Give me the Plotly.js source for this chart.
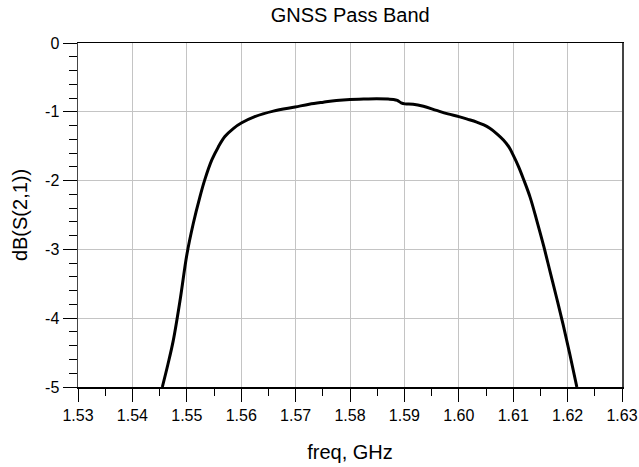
<!DOCTYPE html>
<html>
<head>
<meta charset="utf-8">
<script src="https://cdn.plot.ly/plotly-3.0.1.min.js"></script>
<style>
  html, body { margin: 0; padding: 0; background: #fff; }
  #chart { width: 639px; height: 467px; }
</style>
</head>
<body>
<div id="chart"></div>
<script>
// Filter transmission S21 across the GNSS band
const freqGHz = [
  1.5455, 1.5465, 1.5475, 1.5488, 1.5500, 1.5512, 1.5524, 1.5533, 1.5546,
  1.5558, 1.5570, 1.5586, 1.5601, 1.5625, 1.5659, 1.5699, 1.5725, 1.5751,
  1.5775, 1.5800, 1.5825, 1.5849, 1.5870, 1.5880, 1.5887, 1.5894, 1.5901,
  1.5916, 1.5935, 1.5959, 1.5980, 1.6000, 1.6017, 1.6033, 1.6046, 1.6057,
  1.6070, 1.6082, 1.6092, 1.6100, 1.6110, 1.6119, 1.6131, 1.6143, 1.6156,
  1.6168, 1.6180, 1.6192, 1.6204, 1.6217
];
const s21dB = [
  -5.00, -4.68, -4.33, -3.72, -3.08, -2.62, -2.24, -1.99, -1.70,
  -1.51, -1.36, -1.24, -1.16, -1.07, -0.99, -0.93, -0.89, -0.86,
  -0.835, -0.82, -0.815, -0.81, -0.815, -0.82, -0.835, -0.87, -0.885,
  -0.89, -0.92, -0.98, -1.03, -1.07, -1.11, -1.15, -1.19, -1.24,
  -1.32, -1.41, -1.51, -1.63, -1.80, -1.98, -2.24, -2.57, -2.95,
  -3.33, -3.71, -4.10, -4.52, -5.00
];

const xTickVals = [1.53, 1.54, 1.55, 1.56, 1.57, 1.58, 1.59, 1.60, 1.61, 1.62, 1.63];
const xTickText = ['1.53', '1.54', '1.55', '1.56', '1.57', '1.58', '1.59', '1.60', '1.61', '1.62', '1.63'];
const yTickVals = [0, -1, -2, -3, -4, -5];
const yTickText = ['0', '-1', '-2', '-3', '-4', '-5'];

const font = 'Liberation Sans, Arial, sans-serif';

const trace = {
  x: freqGHz,
  y: s21dB,
  type: 'scatter',
  mode: 'lines',
  line: { color: '#000', width: 3, shape: 'spline', smoothing: 1 },
  hoverinfo: 'x+y'
};

const layout = {
  width: 639,
  height: 467,
  margin: { l: 78, r: 17, t: 43, b: 80 },
  paper_bgcolor: '#fff',
  plot_bgcolor: '#fff',
  showlegend: false,
  font: { family: font, color: '#000', size: 16 },
  title: {
    text: 'GNSS Pass Band',
    font: { family: font, size: 20, color: '#000' },
    x: 0.548, xanchor: 'center',
    y: 0.968, yanchor: 'middle'
  },
  xaxis: {
    range: [1.53, 1.63],
    tickvals: xTickVals,
    ticktext: xTickText,
    ticks: 'outside',
    ticklen: 13,
    tickwidth: 1,
    tickcolor: '#000',
    tickfont: { family: font, size: 16, color: '#000' },
    showgrid: true,
    gridcolor: '#c4c4c4',
    gridwidth: 1,
    showline: true,
    linecolor: '#000',
    linewidth: 1.5,
    mirror: true,
    zeroline: false,
    minor: { dtick: 0.005, tick0: 1.53, ticks: 'outside', ticklen: 7, tickcolor: '#000', showgrid: false },
    title: { text: 'freq, GHz', font: { family: font, size: 20, color: '#000' }, standoff: 22 }
  },
  yaxis: {
    range: [-5, 0],
    tickvals: yTickVals,
    ticktext: yTickText,
    ticks: 'outside',
    ticklen: 14,
    tickwidth: 1,
    tickcolor: '#000',
    tickfont: { family: font, size: 16, color: '#000' },
    showgrid: true,
    gridcolor: '#c4c4c4',
    gridwidth: 1,
    showline: true,
    linecolor: '#444',
    linewidth: 1.5,
    mirror: true,
    zeroline: false,
    minor: { dtick: 0.2, tick0: 0, ticks: 'outside', ticklen: 8, tickcolor: '#000', showgrid: false },
    title: { text: 'dB(S(2,1))', font: { family: font, size: 20, color: '#000' }, standoff: 12 }
  }
};

Plotly.newPlot('chart', [trace], layout, { displayModeBar: false, staticPlot: true });
</script>
</body>
</html>
